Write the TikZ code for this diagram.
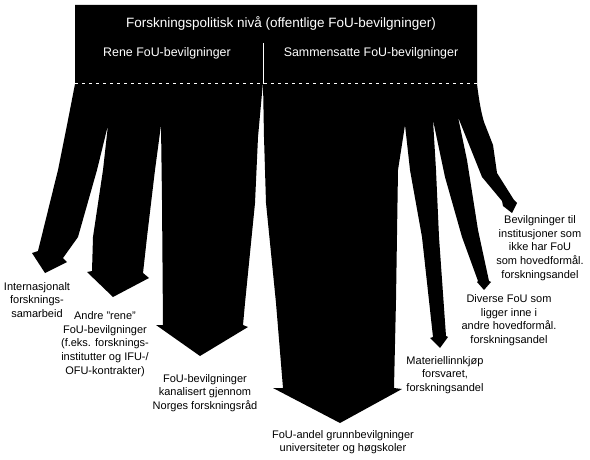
\documentclass[tikz,border=0pt]{standalone}
\usepackage{fontspec}
\setmainfont{Liberation Sans}
\begin{document}
\begin{tikzpicture}[x=1pt,y=-1pt,
  lbl/.style={font=\fontsize{11}{13.6}\selectfont, align=center, inner sep=0pt, text=black},
  headtxt/.style={font=\fontsize{13.5}{16}\selectfont, text=white, inner sep=0pt},
  subtxt/.style={font=\fontsize{12.4}{15}\selectfont, text=white, inner sep=0pt},
  flow/.style={fill=black}]
\useasboundingbox[fill=white] (0,0) rectangle (590,460);
\fill[flow] (75,5) -- (477,5) -- (477,84)
  .. controls (479,100) and (481,112) .. (484,122)
  -- (493,145) -- (497,173) -- (514,200) -- (517,203) -- (512,213) -- (503,206) -- (502,201) -- (482,177) -- (470,147) -- (458,117)
  -- (467,160) -- (478,230) -- (489,281) -- (491,282) -- (484,290) -- (477,282) -- (478,281) -- (462,237) -- (445,177) -- (433,120)
  -- (436,170) -- (439,237) -- (446,336) -- (448,337) -- (440,348) -- (430,338) -- (433,337) -- (422,237) -- (410,170) -- (405,125)
  -- (398,170) -- (396,300) -- (394,388) -- (402,389) -- (340,423) -- (273,388) -- (283,388) -- (276,303) -- (266,203) -- (264,137) -- (263,82)
  -- (258,137) -- (255,203) -- (245,303) -- (243,325) -- (248,327) -- (200,356) -- (156,325) -- (163,325) -- (162,200) -- (161,125)
  -- (155,170) -- (147,237) -- (143,273) -- (149,278) -- (113,297) -- (87,272) -- (92,271) -- (93,237) -- (103,170) -- (108,125)
  -- (97,170) -- (78,237) -- (63,258) -- (67,262) -- (45,273) -- (32,253) -- (38,251) -- (58,170) -- (68,120) -- (75,84) -- cycle;
\draw[white, line width=0.5pt, dash pattern=on 3pt off 4pt] (75,83) -- (477,83);
\draw[white, line width=0.9pt] (263,43) -- (263,84);
\node[headtxt] (title) at (281,23) {Forskningspolitisk nivå (offentlige FoU-bevilgninger)};
\node[subtxt] (rene) at (167,53) {Rene FoU-bevilgninger};
\node[subtxt] (samm) at (371,53) {Sammensatte FoU-bevilgninger};
\node[lbl] (intl) at (37,300) {Internasjonalt\\forsknings-\\samarbeid};
\node[lbl] (andre) at (105,344) {Andre "rene"\\FoU-bevilgninger\\(f.eks. forsknings-\\institutter og IFU-/\\OFU-kontrakter)};
\node[lbl] (nfr) at (205,393) {FoU-bevilgninger\\kanalisert gjennom\\Norges forskningsråd};
\node[lbl] (uh) at (343,442) {FoU-andel grunnbevilgninger\\universiteter og høgskoler};
\node[lbl] (mat) at (445,375) {Materiellinnkjøp\\forsvaret,\\forskningsandel};
\node[lbl] (div) at (509,320) {Diverse FoU som\\ligger inne i\\andre hovedformål.\\forskningsandel};
\node[lbl] (bev) at (540,248) {Bevilgninger til\\institusjoner som\\ikke har FoU\\som hovedformål.\\forskningsandel};
\end{tikzpicture}
\end{document}
